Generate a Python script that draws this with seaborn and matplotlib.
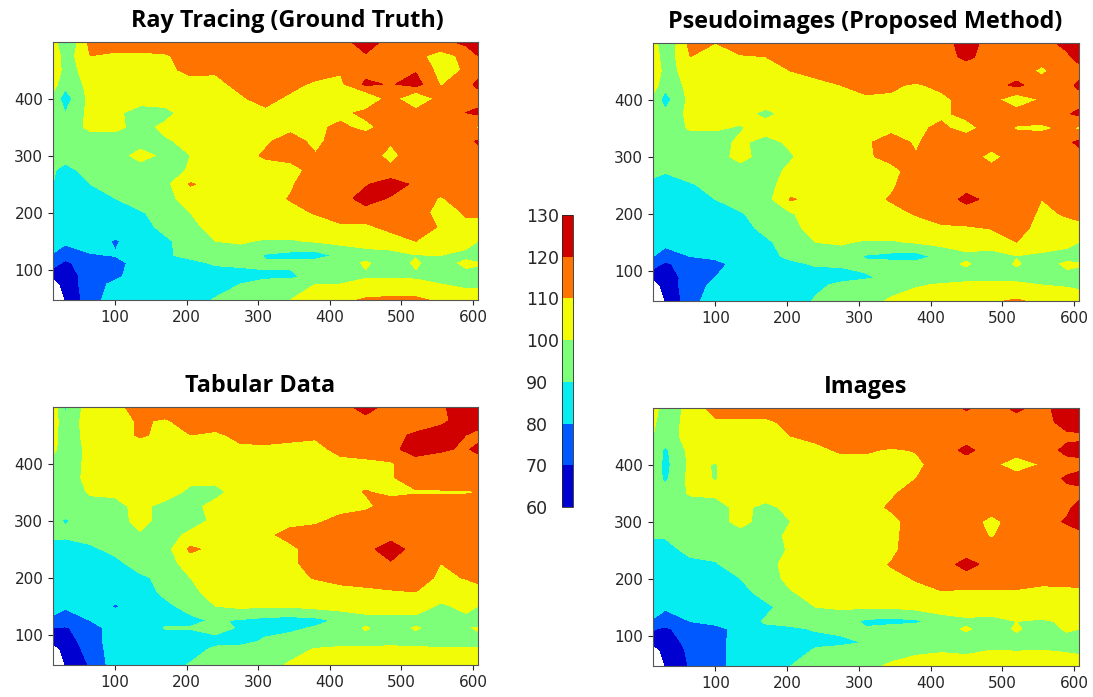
import numpy as np
import matplotlib
matplotlib.use('Agg')
import matplotlib.pyplot as plt
import seaborn as sns

x_vals = [13, 30, 65, 100, 135, 170, 205, 240, 275, 310, 345, 380, 415, 450, 485, 520, 555, 590, 607]
y_vals = [499, 475, 450, 425, 400, 375, 350, 325, 300, 275, 250, 225, 200, 175, 150, 125, 112, 88, 75, 47]
levels = [60, 70, 80, 90, 100, 110, 120, 130]

# rows go from the top of the panel down, one column per x_vals entry
ray_tracing = [
    [106, 88, 113, 116, 116, 116, 116, 116, 116, 116, 116, 116, 116, 125, 116, 116, 116, 123, 128],
    [109, 94, 110, 108, 108, 109, 114, 116, 116, 116, 116, 116, 116, 119, 116, 112, 107, 112, 120],
    [110, 95, 105, 107, 107, 108, 112, 111, 115, 116, 116, 116, 111, 116, 115, 119, 106, 111, 116],
    [104, 93, 103, 104, 105, 106, 107, 108, 112, 115, 113, 108, 108, 122, 119, 124, 109, 117, 122],
    [97, 85, 103, 100, 104, 105, 106, 107, 109, 113, 108, 108, 109, 99, 115, 99, 114, 116, 116],
    [93, 90, 103, 102, 96, 97, 105, 106, 107, 108, 109, 107, 107, 113, 115, 114, 116, 120, 122],
    [94, 95, 102, 102, 97, 102, 105, 106, 107, 108, 108, 108, 112, 107, 115, 116, 116, 111, 109],
    [95, 95, 95, 96, 96, 99, 102, 106, 107, 109, 113, 108, 114, 116, 111, 116, 116, 117, 121],
    [94, 94, 95, 96, 103, 98, 100, 106, 107, 111, 113, 110.5, 115, 115, 107, 116, 116, 116, 116],
    [91, 87, 94, 95, 96, 96, 101, 105, 106, 107, 107, 113, 116, 116, 112, 116, 116, 116, 116],
    [90, 85, 90, 93, 96, 97, 111, 106, 108, 108, 109, 115, 116, 119, 125, 118, 116, 111, 113],
    [85, 85, 86, 90, 95, 97, 104, 106, 107, 107, 110.5, 115, 116, 124, 119, 116, 109, 116, 116],
    [85, 85, 85, 87, 89, 94, 100, 105, 106, 107, 108, 110.5, 113, 116, 116, 116, 105, 111, 111],
    [85, 85, 85, 85, 86, 93, 97, 104, 105, 106, 106, 107, 109, 108, 113, 115, 109, 108, 108],
    [85, 82, 85, 79, 85, 88, 95, 100, 101, 99, 99, 101, 103, 104, 105, 110, 106, 104, 100],
    [79, 74, 79, 80.5, 85, 89, 92, 95, 96, 89, 87, 86, 92, 96, 97, 99.5, 100, 97, 89],
    [75, 68, 76, 76, 85, 87, 88, 91, 91, 91, 92, 94, 96, 101, 96, 101, 96, 102, 101],
    [61, 65, 74, 78, 85, 85, 85, 86, 88, 89, 88, 94, 96, 99, 99, 99, 96, 97, 97],
    [56, 63, 76, 82, 85, 85, 85, 85, 90, 92, 95, 100, 100, 103, 103, 102, 100, 98, 98],
    [45, 60, 76, 85, 85, 85, 85, 91, 94, 96, 100, 106, 108, 111, 112, 112, 108, 105, 105],
]
pseudoimages = [
    [106, 90, 113, 110, 116, 116, 116, 116, 116, 116, 116, 116, 116, 124, 116, 116, 116, 123, 128],
    [108, 93, 110, 109, 109, 110, 114, 116, 116, 116, 116, 116, 116, 122, 116, 116, 114, 118, 124],
    [110, 95, 105, 106, 107, 108, 110, 112, 114, 116, 116, 116, 116, 115, 116, 115, 108, 116, 116],
    [105, 93, 103, 104, 105, 106, 107, 108, 110, 112, 111, 109, 112, 120, 116, 122, 115, 117, 122],
    [97, 86, 103, 105, 105, 106, 106, 107, 108, 109, 109, 108, 108, 113, 113, 103, 111, 116, 116],
    [93, 92, 103, 103, 104, 97, 104, 106, 107, 108, 108, 108, 108, 113, 115, 115, 116, 119, 122],
    [94, 95, 101, 101, 99, 105, 105, 106, 107, 107, 108, 108, 112, 106, 115, 109, 108, 112, 108],
    [95, 95, 95, 96, 102, 96, 102, 106, 107, 109, 113, 109, 115, 116, 116, 116, 116, 118, 122],
    [93, 94, 95, 96, 103, 96, 99, 106, 107, 109, 112, 110.5, 116, 116, 106, 116, 116, 116, 116],
    [91, 91, 94, 95, 96, 96, 102, 106, 107, 107, 108, 113, 116, 116, 114, 116, 116, 116, 116],
    [89, 85, 89, 93, 96, 97, 104, 107, 107, 107, 109, 114, 116, 117, 116, 116, 116, 116, 116],
    [85, 85, 86, 90, 95, 96, 111, 107, 107, 108, 110.5, 115, 116, 122, 118, 116, 110, 116, 116],
    [85, 85, 85, 87, 89, 95, 99, 105, 106, 107, 108, 110.5, 113, 116, 116, 116, 108, 111, 112],
    [85, 85, 85, 86, 86, 93, 97, 104, 105, 106, 106, 107, 109, 109, 110.5, 114, 106, 107, 108],
    [85, 83, 85, 85, 85, 88, 95, 100, 101, 99, 99, 101, 103, 104, 105, 110, 105, 103, 100],
    [80, 75, 80, 83, 85, 87, 92, 95, 96, 89, 87, 86, 93, 98, 96, 99.5, 98, 96, 92],
    [75, 68, 76, 76, 85, 89, 88, 91, 91, 92, 93, 93, 97, 101, 95, 101, 95, 102, 101],
    [61, 65, 74, 80, 85, 85, 85, 86, 87, 89, 92, 94, 96, 96, 96, 96, 96, 97, 97],
    [56, 63, 76, 82, 85, 85, 85, 88, 92, 94, 97, 99, 101, 103, 104, 103, 100, 99, 98],
    [45, 60, 76, 86, 85, 85, 85, 91, 95, 97, 101, 105, 106, 107, 109, 111, 108, 106, 105],
]
tabular = [
    [106, 88, 106, 108, 113, 116, 116, 116, 116, 116, 116, 116, 116, 124, 116, 116, 118, 127, 128],
    [105, 93, 105, 107, 111, 109, 114, 116, 116, 116, 116, 116, 116, 117, 116, 116, 118, 124, 125],
    [104, 94, 104, 107, 111, 108, 110, 108, 113, 114, 112, 111, 116, 116, 118, 121, 124, 120, 117],
    [103, 93, 103, 105, 106, 106, 107, 107, 108, 108, 108, 108, 112, 116, 117, 125, 121, 119, 122],
    [96, 94, 103, 105, 105, 106, 106, 106, 107, 107, 107, 107, 108, 107, 109, 115, 116, 116, 116],
    [95, 95, 103, 104, 105, 106, 104, 104, 107, 107, 107, 107, 107, 107, 109, 115, 116, 116, 118],
    [95, 95, 101, 102, 104, 106, 97, 96, 106, 107, 107, 107, 107, 110.5, 108, 109, 109, 109, 110],
    [95, 95, 97, 97, 103, 96, 96, 104, 106, 106, 106, 106, 106, 108, 114, 116, 116, 116, 116],
    [93, 89, 95, 96, 103, 96, 96, 102, 105, 106, 107, 108, 113, 115, 116, 116, 116, 116, 116],
    [92, 92, 94, 95, 99, 96, 102, 105, 106, 108, 113, 115, 116, 116, 116, 116, 116, 116, 116],
    [86, 85, 88, 93, 96, 96, 112, 107, 107, 108, 108, 114, 116, 117, 125, 116, 116, 116, 116],
    [85, 85, 85, 87, 95, 96, 104, 106, 107, 108, 109, 112, 116, 120, 119, 116, 110, 116, 116],
    [85, 85, 85, 85, 88, 93, 100, 105, 106, 107, 108, 110.5, 113, 114, 116, 115, 108, 110.5, 112],
    [85, 85, 85, 85, 86, 92, 98, 103, 105, 105, 106, 106, 107, 108, 109, 110, 106, 106, 107],
    [85, 81, 85, 79, 85, 88, 93, 100, 102, 101, 101, 103, 104, 105, 105, 106, 98, 103, 100],
    [77, 76, 80, 85, 85, 88, 88, 91, 89, 87, 86, 87, 92, 96, 96, 96, 96, 97, 89],
    [70, 69, 75, 85, 85, 90.5, 90.5, 93, 89, 88, 88, 91, 94, 101, 95, 101, 96, 99, 101],
    [62, 65, 75, 85, 85, 85, 86, 87, 88, 91, 94, 95, 96, 96, 96, 96, 96, 97, 97],
    [56, 63, 74, 85, 85, 85, 85, 92, 92, 94, 97, 100.5, 102, 102, 103, 102, 101, 101, 101],
    [45, 60, 71, 85, 85, 85, 91, 94, 95, 97, 101, 105, 106, 106, 106, 106, 106, 105, 105],
]
images = [
    [108, 90, 105, 113, 116, 116, 116, 116, 116, 116, 116, 116, 116, 121, 116, 122, 116, 127, 128],
    [102, 94, 104, 109, 108, 108, 113, 116, 116, 116, 116, 116, 116, 116, 116, 116, 116, 124, 126],
    [100, 95, 104, 106, 107, 107, 110, 112, 114, 116, 116, 116, 116, 116, 116, 116, 116, 118, 118],
    [98, 88, 103, 105, 105, 106, 107, 108, 111, 111, 109, 110.5, 116, 122, 116, 116, 116, 122, 123],
    [97, 87, 102, 99.5, 105, 106, 106, 107, 107, 107, 108, 108, 114, 116, 113, 103, 111, 117, 117],
    [96, 88, 103, 99.5, 105, 106, 106, 107, 107, 107, 109, 110, 115, 116, 116, 116, 116, 121, 123],
    [95, 94, 101, 102, 105, 106, 106, 107, 107, 107, 109, 113, 116, 116, 116, 116, 116, 118, 117],
    [95, 95, 96, 96, 103, 97, 103, 106, 107, 107, 111, 115, 116, 116, 116, 116, 116, 118, 123],
    [94, 94, 95, 96, 103, 96, 100, 106, 107, 107, 108, 113, 116, 116, 106, 116, 116, 121, 125],
    [91, 91, 94, 95, 96, 96, 102, 106, 107, 107, 108, 114, 116, 116, 109, 116, 116, 116, 116],
    [86, 86, 93, 94, 96, 96, 101, 106, 107, 107, 108, 115, 116, 116, 116, 116, 116, 116, 116],
    [85, 85, 87, 89, 95, 96, 104, 106, 107, 107, 110.5, 112, 116, 123, 117, 116, 116, 116, 116],
    [85, 85, 85, 87, 90, 95, 103, 105, 106, 107, 108, 110.5, 115, 116, 116, 116, 113, 115, 115],
    [85, 85, 85, 85, 87, 93, 99, 104, 105, 105, 106, 108, 109, 108, 108, 108, 107, 106, 107],
    [84, 81, 85, 85, 85, 88, 94, 100, 101, 101, 101, 103, 104, 105, 105, 105, 105, 104, 104],
    [79, 76, 80, 85, 85, 91, 92, 95, 95, 88, 87, 88, 96, 98, 97, 100, 99, 101, 102],
    [71, 68, 76, 75, 85, 88, 89, 90.5, 92, 91, 94, 96, 97, 101, 96, 101, 96, 101, 100],
    [62, 65, 73, 76, 85, 85, 86, 88, 88, 90.5, 94, 96, 96, 96, 97, 97, 97, 97, 97],
    [56, 63, 72, 75, 86, 85, 85, 91, 93, 95, 97, 98, 99, 98, 100, 99.5, 100, 99, 98],
    [45, 60, 71, 75, 86, 85, 90, 94, 96, 98, 101, 104, 105, 105, 106, 106, 106, 105, 105],
]

titles = ['Ray Tracing (Ground Truth)', 'Pseudoimages (Proposed Method)', 'Tabular Data', 'Images']
grids = [ray_tracing, pseudoimages, tabular, images]
boxes = [(53, 42, 478, 300), (653, 43, 1079, 301), (53, 407, 478, 665), (653, 408, 1079, 666)]
title_centers = [287, 865, 260, 866]

sns.set_style('ticks')
plt.rcParams['font.family'] = ['DejaVu Sans']
W, H = 1093, 697
fig = plt.figure(figsize=(W / 100, H / 100), dpi=100)


def add_axes_px(left, top, right, bottom):
    return fig.add_axes([left / W, 1 - bottom / H, (right - left) / W, (bottom - top) / H])


cs = None
for title, z, box, tx in zip(titles, grids, boxes, title_centers):
    ax = add_axes_px(*box)
    cs = ax.contourf(x_vals, y_vals, np.array(z), levels=levels, cmap='jet', vmin=60, vmax=130)
    ax.set_xticks([100, 200, 300, 400, 500, 600])
    ax.set_yticks([100, 200, 300, 400])
    ax.tick_params(labelsize=11, length=3.5, width=0.8, colors='#262626')
    for s in ax.spines.values():
        s.set_linewidth(0.8)
        s.set_color('#555555')
    ax.set_title(title, x=(tx - box[0]) / (box[2] - box[0]), fontfamily='Open Sans',
                 fontweight='bold', fontsize=16.8, color='black', pad=11)

cax = add_axes_px(562, 215, 573, 507)
cbar = fig.colorbar(cs, cax=cax, ticks=levels)
cbar.ax.yaxis.set_ticks_position('left')
cbar.ax.tick_params(labelsize=12.5, length=0, pad=26, colors='#262626')
for lab in cbar.ax.get_yticklabels():
    lab.set_ha('left')
cbar.outline.set_linewidth(0.6)

plt.savefig('out.png', dpi=100)
